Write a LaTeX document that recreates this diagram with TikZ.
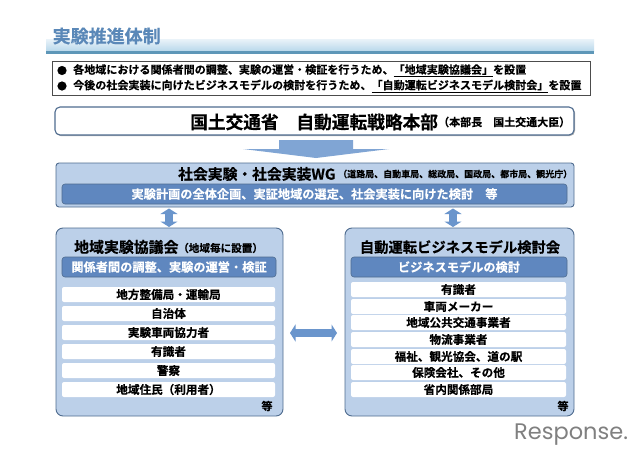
\documentclass[tikz,border=0pt]{standalone}
\usepackage{fontspec}
\setmainfont{Noto Sans CJK JP}[BoldFont={Noto Sans CJK JP Bold},BoldFeatures={FakeBold=0.35}]
\newfontfamily\logofont{Poppins}
\usetikzlibrary{arrows.meta,calc}
\definecolor{boxfill}{HTML}{BCD0E9}
\definecolor{boxline}{HTML}{4F6C8F}
\definecolor{barfill}{HTML}{5F87BF}
\definecolor{arrowblue}{HTML}{6A95CC}
\definecolor{titleblue}{HTML}{5A88B8}
\definecolor{bandlight}{HTML}{E6F1F8}
\definecolor{banddark}{HTML}{B5D6EA}
\definecolor{bandline}{HTML}{5E97B8}
\newcommand{\fs}[1]{\fontsize{#1}{#1}\selectfont\bfseries}
\tikzset{
  panel/.style={draw=boxline,line width=0.9pt,fill=boxfill,rounded corners=#1,inner sep=0pt},
  panel/.default=7pt,
  barbox/.style={draw=boxline,line width=0.6pt,fill=barfill,rounded corners=3pt,inner sep=0pt,text=white},
  rowbox/.style={fill=white,rounded corners=2pt,inner sep=0pt,text=black,font=\fs{11.6}},
  plain/.style={inner sep=0pt,text=black},
  thinarrow/.style={draw=arrowblue,line width=8pt,{Triangle[length=5.5pt,width=17pt]}-{Triangle[length=5.5pt,width=17pt]}},
}
\begin{document}
\begin{tikzpicture}[x=1pt,y=-1pt]
\useasboundingbox (0,0) rectangle (640,452);
\fill[white] (0,0) rectangle (640,452);
% title band
\shade[top color=bandlight,bottom color=banddark] (46,40) rectangle (594,52);
\fill[bandline] (46,51.5) rectangle (594,54);
\node[plain,text=titleblue,font=\fs{18},anchor=west] (title) at (52.5,36) {実験推進体制};
% bullets
\node[draw=black!70,fill=white,line width=0.7pt,minimum width=538pt,minimum height=34pt,inner sep=0pt] (intro) at (321,78) {};
\node[plain,font=\fs{10}] (b1) at (62,70.5) {●};
\node[plain,font=\fs{10}] (b2) at (62,86) {●};
\node[plain,font=\fs{11.05},anchor=west] (l1) at (73,70.5) {各地域における関係者間の調整、実験の運営・検証を行うため、\underline{「地域実験協議会」}を設置};
\node[plain,font=\fs{11.05},anchor=west] (l2) at (73,86) {今後の社会実装に向けたビジネスモデルの検討を行うため、\underline{「自動運転ビジネスモデル検討会」}を設置};
% HQ
\node[draw=black!30,fill=black!30,line width=0.5pt,rounded corners=5pt,minimum width=519pt,minimum height=28pt,inner sep=0pt] (hqshadow) at (315.3,121.8) {};
\node[draw=boxline,fill=white,line width=1.1pt,rounded corners=5pt,minimum width=519pt,minimum height=28pt,inner sep=0pt] (hq) at (314.5,121) {};
\node[plain,font=\fs{17.7},anchor=west] (hqt) at (190,122) {国土交通省　自動運転戦略本部};
\node[plain,font=\fs{11},anchor=west] (hqs) at (438,122) {（本部長　国土交通大臣）};
% big arrow
\fill[arrowblue!85!white] (279,140) -- (353,140) -- (353,149) -- (389,149) -- (316,158) -- (243,149) -- (279,149) -- cycle;
% WG
\node[panel=3pt,minimum width=518pt,minimum height=44pt] (wg) at (315,185) {};
\node[plain,font=\fs{14.8},anchor=west] (wgt) at (178,174) {社会実験・社会実装WG};
\node[plain,font=\fs{9},anchor=west] (wgs) at (338,174) {（道路局、自動車局、総政局、国政局、都市局、観光庁）};
\node[barbox,minimum width=505pt,minimum height=20pt,font=\fs{12.2}] (wgbar) at (314.5,194) {実験計画の全体企画、実証地域の選定、社会実装に向けた検討　等};
% left panel
\node[panel,minimum width=227pt,minimum height=188pt] (left) at (169.5,322) {};
\node[plain,font=\fs{14.9},anchor=west] (lt) at (74,247) {地域実験協議会};
\node[plain,font=\fs{10.6},anchor=west] (ls) at (178,248) {（地域毎に設置）};
\node[barbox,minimum width=214pt,minimum height=20pt,font=\fs{12.2}] (lbar) at (169,267) {関係者間の調整、実験の運営・検証};
\foreach \n/\y/\t in {la/294.5/地方整備局・運輸局,lb/313.5/自治体,lc/332.5/実験車両協力者,ld/351.5/有識者,le/370.5/警察,lf/389.5/地域住民（利用者）}
  \node[rowbox,minimum width=213pt,minimum height=15pt] (\n) at (168.5,\y) {\t};
\node[plain,font=\fs{11}] (lnote) at (267,406) {等};
% right panel
\node[panel,minimum width=229pt,minimum height=188pt] (right) at (459.5,322) {};
\node[plain,font=\fs{14.3}] (rt) at (460,247) {自動運転ビジネスモデル検討会};
\node[barbox,minimum width=216pt,minimum height=20pt,font=\fs{12.2}] (rbar) at (459,267) {ビジネスモデルの検討};
\foreach \n/\y/\t in {ra/289.5/有識者,rb/306.5/車両メーカー,rc/322.5/地域公共交通事業者,rd/339.5/物流事業者,re/356.5/福祉、観光協会、道の駅,rf/372.5/保険会社、その他,rg/389.5/省内関係部局}
  \node[rowbox,minimum width=215pt,minimum height=15pt] (\n) at (458.5,\y) {\t};
\node[plain,font=\fs{11}] (rnote) at (563,406) {等};
% connectors
\coordinate (wgl) at (169,208.5);
\coordinate (wgr) at (453,208.5);
\coordinate (ltop) at (169,227);
\coordinate (rtop) at (453,227);
\coordinate (lside) at (290,333);
\coordinate (rside) at (337,333);
\draw[thinarrow] (wgl) -- (ltop);
\draw[thinarrow] (wgr) -- (rtop);
\draw[thinarrow] (lside) -- (rside);
% logo
\node[plain,text=black!50,font=\logofont\fontsize{22.5}{22.5}\selectfont,anchor=base west] (logo) at (514,439.5) {Response.};
\end{tikzpicture}
\end{document}
